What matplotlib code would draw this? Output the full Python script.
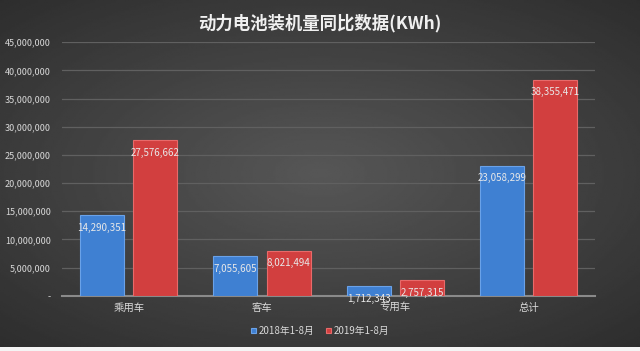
import numpy as np
import matplotlib.pyplot as plt
from matplotlib.ticker import FuncFormatter

plt.rcParams['font.family'] = ['Liberation Sans Narrow', 'Noto Sans CJK SC', 'DejaVu Sans']

categories = ['乘用车', '客车', '专用车', '总计']
series_2018 = [14290351, 7055605, 1712343, 23058299]
series_2019 = [27576662, 8021494, 2757315, 38355471]
labels = ['2018年1-8月', '2019年1-8月']

blue = '#3f80d2'
red = '#d23f3f'
text_col = '#d9d9d9'

fig = plt.figure(figsize=(6.4, 3.51), dpi=100)
fig.patch.set_facecolor('#f4f4f4')

# dark radial gradient background (lighter in the middle)
bg = fig.add_axes([0, 0.012, 1, 0.988], zorder=-10)
yy, xx = np.mgrid[-1:1:200j, -1:1:360j]
dist = np.clip(np.sqrt((xx * 0.85) ** 2 + (yy * 0.9) ** 2), 0, 1.3)
shade = 0.34 - 0.13 * dist
bg.imshow(shade, cmap='gray', vmin=0, vmax=1, aspect='auto',
          extent=[0, 1, 0, 1], origin='lower')
bg.set_axis_off()

ax = fig.add_axes([0.097, 0.157, 0.833, 0.723])
ax.set_facecolor('none')

x = np.arange(len(categories))
w = 0.33
gap = 0.07
b1 = ax.bar(x - (w + gap) / 2, series_2018, w, color=blue, edgecolor='#6aa2e8',
            linewidth=0.8, label=labels[0], zorder=3)
b2 = ax.bar(x + (w + gap) / 2, series_2019, w, color=red, edgecolor='#e86a6a',
            linewidth=0.8, label=labels[1], zorder=3)

for bars in (b1, b2):
    for r in bars:
        h = r.get_height()
        ax.annotate(f'{h:,.0f}', (r.get_x() + r.get_width() / 2, h),
                    xytext=(0, -9), textcoords='offset points',
                    ha='center', va='center', fontsize=7, color='#e8e8e8', zorder=4)

ax.set_ylim(0, 45000000)
ax.set_yticks(np.arange(0, 45000001, 5000000))
ax.yaxis.set_major_formatter(FuncFormatter(lambda v, p: '-' if v == 0 else f'{v:,.0f}'))
ax.set_xlim(-0.5, len(categories) - 0.5)
ax.set_xticks(x)
ax.set_xticklabels(categories, family=['Noto Sans CJK SC'])
ax.tick_params(axis='both', length=0, colors=text_col, labelsize=7.5)
ax.tick_params(axis='y', labelsize=6.5, pad=8)
ax.tick_params(axis='x', pad=5)
ax.grid(axis='y', color='#606060', linewidth=0.9, zorder=0)
for s in ['top', 'right', 'left']:
    ax.spines[s].set_visible(False)
ax.spines['bottom'].set_color('#8a8a8a')
ax.spines['bottom'].set_linewidth(1.5)

fig.text(0.5, 0.935, '动力电池装机量同比数据(KWh)', ha='center', va='center',
         fontsize=12.5, fontweight='bold', color='#f0f0f0',
         family=['Noto Sans CJK SC'])

leg = fig.legend(handles=[b1, b2], loc='center', bbox_to_anchor=(0.5, 0.057),
                 ncol=2, frameon=False, fontsize=7, handlelength=0.5,
                 handleheight=0.5, columnspacing=1.2, handletextpad=0.3)
for t in leg.get_texts():
    t.set_color(text_col)

fig.savefig('out.png', dpi=100)
